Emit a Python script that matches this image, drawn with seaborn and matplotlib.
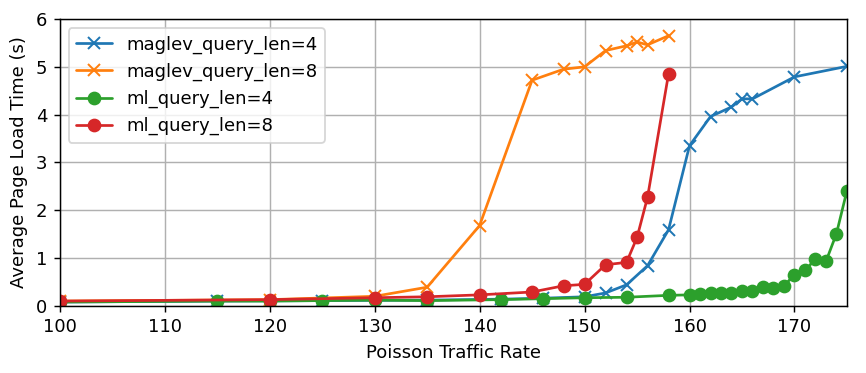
import pandas as pd
import seaborn as sns
import matplotlib
matplotlib.use("Agg")
import matplotlib.pyplot as plt

maglev4_x = [100, 115, 125, 135, 142, 146, 150, 152, 154, 156, 158, 160, 162, 164, 165, 166, 170, 175]
maglev4_y = [0.08, 0.1, 0.11, 0.12, 0.14, 0.16, 0.19, 0.27, 0.44, 0.84, 1.59, 3.35, 3.96, 4.16, 4.33, 4.33, 4.79, 5.01]

maglev8_x = [100, 120, 130, 135, 140, 145, 148, 150, 152, 154, 155, 156, 158]
maglev8_y = [0.1, 0.13, 0.2, 0.39, 1.68, 4.72, 4.95, 5.0, 5.34, 5.44, 5.52, 5.46, 5.65]

ml4_x = [100, 115, 120, 125, 130, 135, 142, 146, 150, 154, 158, 160, 161, 162, 163, 164, 165, 166, 167, 168, 169, 170, 171, 172, 173, 174, 175]
ml4_y = [0.08, 0.1, 0.1, 0.11, 0.12, 0.11, 0.13, 0.15, 0.17, 0.18, 0.22, 0.23, 0.24, 0.26, 0.26, 0.27, 0.32, 0.32, 0.4, 0.37, 0.42, 0.65, 0.74, 0.98, 0.93, 1.51, 2.41]

ml8_x = [100, 120, 130, 135, 140, 145, 148, 150, 152, 154, 155, 156, 158]
ml8_y = [0.1, 0.13, 0.17, 0.19, 0.23, 0.29, 0.42, 0.45, 0.86, 0.91, 1.43, 2.27, 4.85]

series = [
    ("maglev_query_len=4", maglev4_x, maglev4_y, "x"),
    ("maglev_query_len=8", maglev8_x, maglev8_y, "x"),
    ("ml_query_len=4", ml4_x, ml4_y, "o"),
    ("ml_query_len=8", ml8_x, ml8_y, "o"),
]
colors = ["#1f77b4", "#ff7f0e", "#2ca02c", "#d62728"]

rows = []
for name, xs, ys, m in series:
    for x, y in zip(xs, ys):
        rows.append([name, x, y])
df = pd.DataFrame(rows, columns=["series", "rate", "plt"])

sns.set_style("ticks", rc={"axes.edgecolor": "black", "xtick.color": "black",
                           "ytick.color": "black", "text.color": "black",
                           "axes.labelcolor": "black"})
plt.rcParams["font.family"] = ["DejaVu Sans"]
plt.rcParams["font.size"] = 10

# drawn at dpi 130 so default-ish sizes match the reference
fig, ax = plt.subplots(figsize=(866 / 130, 373 / 130), dpi=130)
for (name, xs, ys, m), c in zip(series, colors):
    sns.lineplot(data=df[df["series"] == name], x="rate", y="plt", ax=ax,
                 color=c, marker=m, markersize=6.5, linewidth=1.5,
                 markeredgewidth=1.1, markeredgecolor=c, label=name)

ax.set_xlim(100, 175)
ax.set_ylim(0, 6)
ax.set_xlabel("Poisson Traffic Rate", fontsize=10)
ax.set_ylabel("Average Page Load Time (s)", fontsize=10)
ax.tick_params(labelsize=10, direction="out", length=3.5, width=0.8)
ax.grid(True, color="#b0b0b0", linewidth=0.8)
for s in ax.spines.values():
    s.set_color("black")
    s.set_linewidth(0.8)
ax.legend(loc="upper left", fontsize=10, frameon=True, framealpha=0.8,
          edgecolor="#cccccc")
plt.subplots_adjust(left=0.069, right=0.978, top=0.949, bottom=0.18)
plt.savefig("out.png", dpi=130)
